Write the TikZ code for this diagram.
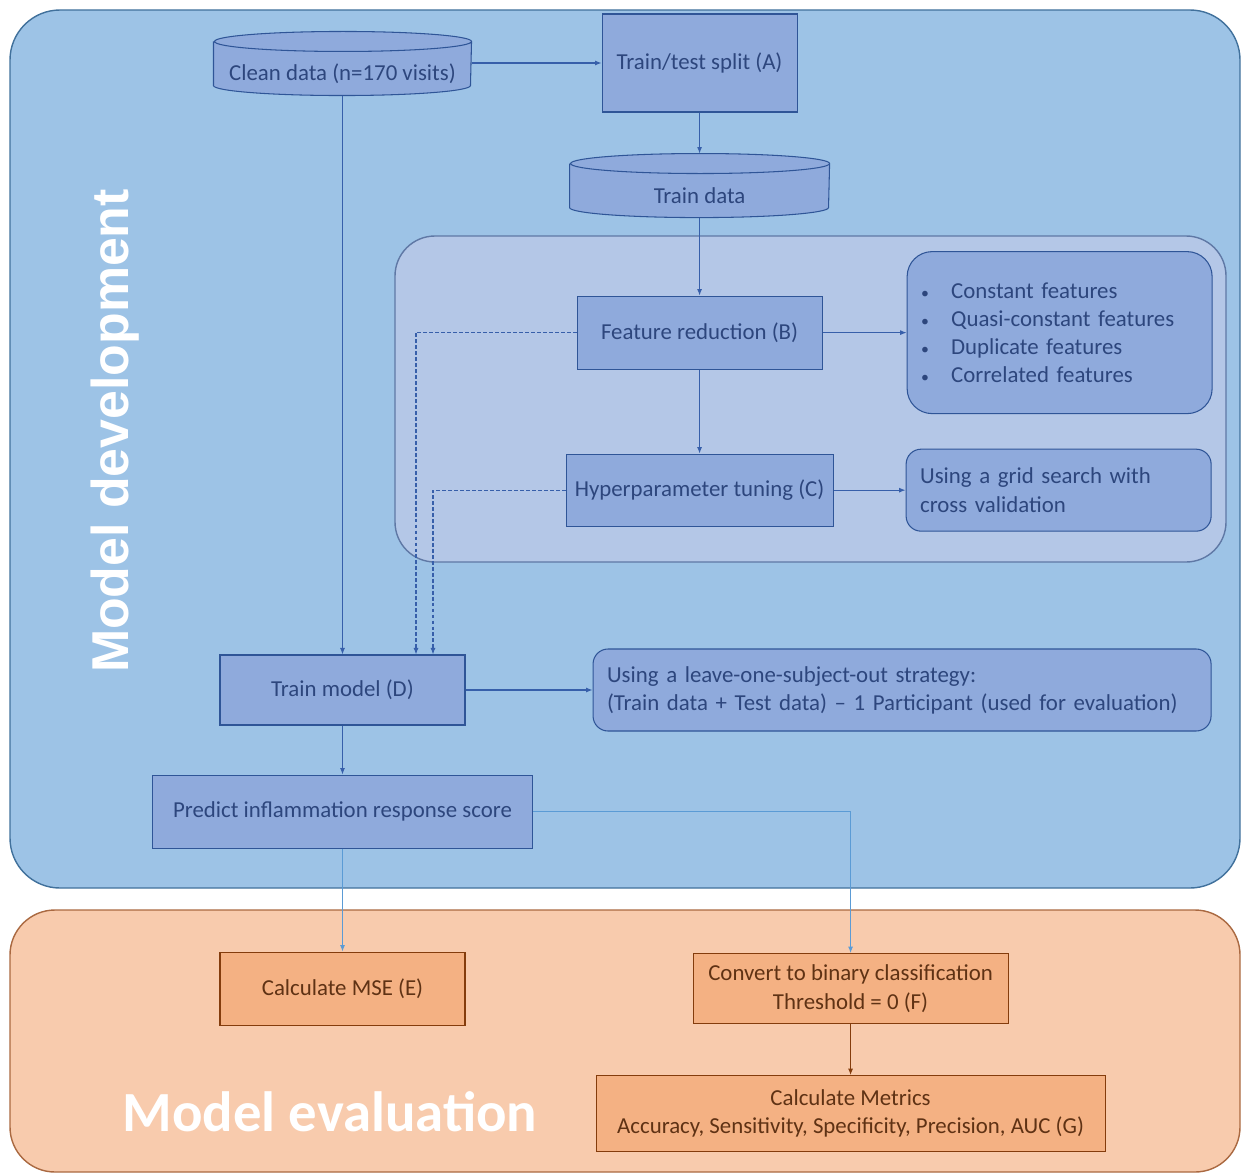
\documentclass[tikz,border=0pt]{standalone}
\usepackage{fontspec}
\setmainfont{Carlito}
\newfontfamily\arialfont{Liberation Sans}
\usepackage{tikz}
\usetikzlibrary{arrows.meta,positioning,backgrounds}
\definecolor{devcol}{RGB}{157,195,230}
\definecolor{devline}{RGB}{65,113,156}
\definecolor{innercol}{RGB}{180,199,231}
\definecolor{innerline}{RGB}{95,120,165}
\definecolor{boxcol}{RGB}{143,170,220}
\definecolor{boxline}{RGB}{47,85,151}
\definecolor{boxtext}{RGB}{45,70,125}
\definecolor{evalcol}{RGB}{248,203,173}
\definecolor{evalline}{RGB}{170,105,65}
\definecolor{ebox}{RGB}{244,177,131}
\definecolor{eboxline}{RGB}{132,60,12}
\definecolor{eboxtext}{RGB}{95,50,20}
\definecolor{arrowcol}{RGB}{55,95,170}
\definecolor{lightarrow}{RGB}{91,155,213}
\newcommand\bul{\makebox[6mm][l]{\fontsize{9}{9}\selectfont\textbullet}}
% cylinder round a text node: node name, half width
\newcommand\dbdraw[2]{%
  \draw[draw=boxline, fill=boxcol, line width=0.6pt]
    ([yshift=2mm]#1.north west) -- ([yshift=2mm]#1.south west)
    arc[start angle=180, end angle=360, x radius=#2, y radius=2mm]
    -- ([yshift=2mm]#1.north east)
    arc[start angle=0, end angle=180, x radius=#2, y radius=2mm]
    arc[start angle=180, end angle=360, x radius=#2, y radius=2mm];}

\begin{document}
\begin{tikzpicture}[
   x=0.2mm, y=-0.2mm, >={Latex[length=1.3mm,width=1mm]},
   box/.style={draw=boxline, fill=boxcol, line width=0.6pt, align=center,
               text=boxtext, font=\fontsize{13}{16}\selectfont, inner sep=1pt},
   db/.style={box, draw=none, fill=none, minimum height=8.6mm},
   note/.style={box, rounded corners=3mm, align=left, inner xsep=2.8mm},
   evalbox/.style={box, draw=eboxline, fill=ebox, text=eboxtext},
   dep/.style={->, line width=0.6pt, arrowcol},
   fb/.style={dep, dash pattern=on 2.2pt off 1.2pt},
]
\useasboundingbox (0,0) rectangle (1243,1175);
% panels
\begin{scope}[on background layer]
\draw[devline, fill=devcol, line width=0.8pt, rounded corners=10mm] (10,10) rectangle (1240,888);
\draw[evalline, fill=evalcol, line width=0.8pt, rounded corners=9mm] (10,910) rectangle (1240,1172);
\draw[innerline, fill=innercol, line width=0.8pt, rounded corners=8mm] (395,236) rectangle (1226,562);
\end{scope}
\node[rotate=90, text=white, font=\arialfont\bfseries\fontsize{29.5}{31}\selectfont] (devlbl) at (115,431)
  {Model development};
\node[text=white, font=\bfseries\fontsize{32.3}{34}\selectfont] (evallbl) at (330,1112)
  {Model evaluation};
% layer 0: data
\node[db, minimum width=51.4mm] (clean) at (342.5,73.5)
  {Clean data (n=170 visits)};
\node[box, minimum width=39mm, minimum height=19.6mm, right=26mm of clean, yshift=2.1mm] (split)
  {Train/test split (A)};
\node[db, minimum width=51.8mm, below=12.2mm of split] (tdata)
  {Train data};
% layer 1: feature reduction and tuning
\node[box, minimum width=49mm, minimum height=14.6mm, below=15.6mm of tdata] (fred)
  {Feature reduction (B)};
\node[box, minimum width=53.4mm, minimum height=14.4mm, below=16.8mm of fred] (tune)
  {Hyperparameter tuning (C)};
\node[note, rounded corners=5mm, text width=55.4mm, minimum height=32.4mm, right=16.8mm of fred] (feats)
  {\bul Constant features\\
   \bul Quasi-constant features\\
   \bul Duplicate features\\
   \bul Correlated features};
\node[note, text width=55.4mm, minimum height=16.4mm, right=14.4mm of tune] (grid)
  {Using a grid search with\\cross validation};
% layer 2: training
\node[box, minimum width=49mm, minimum height=14mm] (train) at (342.5,690)
  {Train model (D)};
\node[note, text width=118mm, minimum height=16.4mm, right=25.4mm of train] (loso)
  {Using a leave-one-subject-out strategy:\\
   (Train data + Test data) -- 1 Participant (used for evaluation)};
\node[box, minimum width=76mm, minimum height=14.6mm, below=9.8mm of train] (pred)
  {Predict inflammation response score};
% layer 3: evaluation
\node[evalbox, minimum width=49mm, minimum height=14.6mm, below=20.6mm of pred] (mse)
  {Calculate MSE (E)};
\node[evalbox, minimum width=63mm, minimum height=14mm, right=45.4mm of mse] (bin)
  {Convert to binary classification\\Threshold = 0 (F)};
\node[evalbox, minimum width=101.8mm, minimum height=15.2mm, below=10.2mm of bin] (metrics)
  {Calculate Metrics\\Accuracy, Sensitivity, Specificity, Precision, AUC (G)};
% cylinders
\begin{scope}[on background layer]
\dbdraw{clean}{25.7mm}
\dbdraw{tdata}{25.9mm}
\end{scope}
% edges
\draw[dep] (split.west -| clean.east) -- (split.west);
\draw[dep] (split) -- ([yshift=4mm]tdata.north);
\draw[dep] (tdata) -- (fred);
\draw[dep] (fred) -- (tune);
\draw[dep] (fred) -- (feats);
\draw[dep] (tune) -- (grid);
\draw[dep] (clean) -- (train);
\draw[fb] (fred.west) -| ([xshift=14.7mm]train.north);
\draw[fb] (tune.west) -| ([xshift=18.1mm]train.north);
\draw[dep] (train) -- (loso);
\draw[dep] (train) -- (pred);
\draw[dep, lightarrow] (pred) -- (mse);
\draw[dep, lightarrow] (pred.east) -| (bin.north);
\draw[dep, eboxline] (bin) -- (metrics);
\end{tikzpicture}
\end{document}
